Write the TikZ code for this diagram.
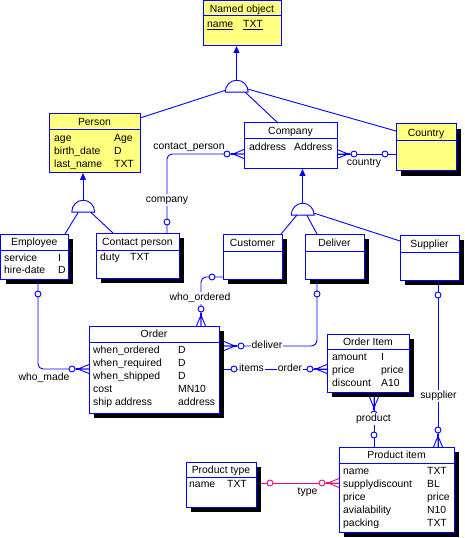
\documentclass[tikz,border=0pt]{standalone}
\usepackage{fontspec}
\setmainfont{Liberation Sans}
\usetikzlibrary{arrows.meta,calc}
\definecolor{erblue}{RGB}{0,0,255}
\definecolor{eryellow}{RGB}{255,255,128}
\definecolor{erpink}{RGB}{230,20,120}
\tikzset{
  ebox/.style={draw=erblue, line width=1bp, fill=white, inner sep=0pt, outer sep=0pt},
  ybox/.style={ebox, fill=eryellow},
  ttl/.style={inner sep=0pt, text height=7.4bp, text depth=0pt},
  attr/.style={ttl, anchor=west},
  conn/.style={draw=erblue, line width=0.9bp},
  lbl/.style={fill=white, inner sep=1bp, text height=7.4bp, text depth=2bp},
  plbl/.style={inner sep=0pt, text height=7.4bp, text depth=0pt},
  inhsym/.style={draw=erblue, line width=0.9bp, fill=white},
  isa/.style={conn, -{Triangle[width=6bp,length=7bp]}},
  ringst/.style={conn, fill=white},
}
% entity: name, l, t, r, b, divider, title, style, shadow
\newcommand\ent[9]{%
  \pgfmathsetmacro\entw{#4-#2}%
  \pgfmathsetmacro\enth{#5-#3}%
  \pgfmathsetmacro\entx{(#2+#4)/2}%
  \pgfmathsetmacro\enty{(#3+#5)/2}%
  \pgfmathsetmacro\entty{(#3+#6)/2}%
  \ifnum#9=1 \fill[black] ({#2+5},{#3+5}) rectangle ({#4+5},{#5+5});\fi
  \node[#8, minimum width=\entw bp, minimum height=\enth bp] (#1) at (\entx,\enty) {};
  \draw[draw=erblue, line width=1bp] (#1.west |- 0,#6) -- (#1.east |- 0,#6);
  \node[ttl] (#1-title) at (\entx,\entty) {#7};
}
% inheritance symbol: name, cx, base y
\newcommand\inh[3]{%
  \node[inner sep=0pt, minimum width=23bp, minimum height=12bp] (#1) at (#2,{#3-6}) {};
  \draw[inhsym] (#1.south west) -- (#1.south east)
     arc[start angle=0, end angle=180, x radius=11.5bp, y radius=12bp] -- cycle;
}
% crow's foot with dot and ring: coordinate, outward angle, colour
\newcommand\crow[3]{%
  \begin{scope}[shift={(#1)}, rotate=#2]
    \draw[draw=#3, line width=0.9bp] (0,4.5bp) -- (11bp,0) -- (0,-4.5bp) (0,0) -- (11bp,0);
    \fill[#3] (10bp,-1.3bp) rectangle (12.6bp,1.3bp);
    \draw[draw=#3, line width=0.9bp, fill=white] (17bp,0) circle[radius=3bp];
  \end{scope}}
\newcommand\ring[2]{\draw[ringst, draw=#2] (#1) circle[radius=3bp];}
\newcommand\attr[4]{\node[attr] (#1) at (#2,#3) {#4};}
\begin{document}
\begin{tikzpicture}[x=1bp, y=-1bp, font=\fontsize{10.4bp}{12bp}\selectfont]
\useasboundingbox (0,0) rectangle (465,538);
\fill[white] (0,0) rectangle (465,538);

% ---------- entities ----------
\ent{Named}{203}{1}{281}{46}{16}{Named object}{ybox}{0}
\attr{Named-a1}{207}{24}{\underline{name}}
\attr{Named-b1}{243}{24}{\underline{TXT}}

\ent{Person}{49}{114}{140}{173}{130}{Person}{ybox}{0}
\attr{Person-a1}{54}{138}{age}        \attr{Person-b1}{114}{138}{Age}
\attr{Person-a2}{54}{151}{birth\_date} \attr{Person-b2}{114}{151}{D}
\attr{Person-a3}{54}{164}{last\_name}  \attr{Person-b3}{114}{164}{TXT}

\ent{Company}{244}{123}{337}{169}{139}{Company}{ebox}{0}
\attr{Company-a1}{249}{147}{address} \attr{Company-b1}{294}{147}{Address}

\ent{Country}{396}{124}{456}{171}{141}{Country}{ybox}{1}

\ent{Employee}{0.5}{234}{68}{279}{250}{Employee}{ebox}{1}
\attr{Employee-a1}{4}{258}{service}   \attr{Employee-b1}{58}{258}{I}
\attr{Employee-a2}{4}{270}{hire-date} \attr{Employee-b2}{58}{270}{D}

\ent{Contact}{96}{233}{179}{278}{250}{Contact person}{ebox}{1}
\attr{Contact-a1}{100}{257}{duty} \attr{Contact-b1}{130}{257}{TXT}

\ent{Customer}{223}{234}{282}{279}{251}{Customer}{ebox}{1}
\ent{Deliver}{305}{234}{364}{279}{251}{Deliver}{ebox}{1}
\ent{Supplier}{400}{235}{459}{280}{252}{Supplier}{ebox}{1}

\ent{Order}{89}{326}{219}{413}{342}{Order}{ebox}{1}
\attr{Order-a1}{93}{350}{when\_ordered}  \attr{Order-b1}{178}{350}{D}
\attr{Order-a2}{93}{363}{when\_required} \attr{Order-b2}{178}{363}{D}
\attr{Order-a3}{93}{376}{when\_shipped}  \attr{Order-b3}{178}{376}{D}
\attr{Order-a4}{93}{389}{cost}           \attr{Order-b4}{178}{389}{MN10}
\attr{Order-a5}{93}{402}{ship address}   \attr{Order-b5}{178}{402}{address}

\ent{OrderItem}{327}{334}{409}{392}{349}{Order Item}{ebox}{1}
\attr{OrderItem-a1}{332}{357}{amount}   \attr{OrderItem-b1}{381}{357}{I}
\attr{OrderItem-a2}{332}{370}{price}    \attr{OrderItem-b2}{381}{370}{price}
\attr{OrderItem-a3}{332}{383}{discount} \attr{OrderItem-b3}{381}{383}{A10}

\ent{ProductType}{186}{462}{256}{507}{477}{Product type}{ebox}{1}
\attr{ProductType-a1}{189}{484}{name} \attr{ProductType-b1}{227}{484}{TXT}

\ent{ProductItem}{339}{447}{454}{532}{463}{Product item}{ebox}{1}
\attr{ProductItem-a1}{343}{471}{name}           \attr{ProductItem-b1}{427}{471}{TXT}
\attr{ProductItem-a2}{343}{484}{supplydiscount} \attr{ProductItem-b2}{427}{484}{BL}
\attr{ProductItem-a3}{343}{497}{price}          \attr{ProductItem-b3}{427}{497}{price}
\attr{ProductItem-a4}{343}{510}{avialability}   \attr{ProductItem-b4}{427}{510}{N10}
\attr{ProductItem-a5}{343}{523}{packing}        \attr{ProductItem-b5}{427}{523}{TXT}

% ---------- inheritance ----------
\inh{inhA}{236.5}{92}
\draw[conn] ($(inhA.south west)+(1,-2)$) -- ($(Person.north east)+(0,4)$);
\draw[conn] ($(inhA.south east)+(-3,0)$) -- ($(Company.north west)+(34,0)$);
\draw[conn] ($(inhA.south east)+(0,-3)$) -- ($(Country.north west)+(0,7)$);
\draw[isa] (inhA.north) -- (inhA.north |- Named.south);

\inh{inhB}{83}{212}
\draw[conn] ($(inhB.south west)+(7,0)$) -- ($(Employee.north east)+(-3,0)$);
\draw[conn] ($(inhB.south east)+(-4,0)$) -- ($(Contact.north west)+(17,0)$);
\draw[isa] (inhB.north) -- (inhB.north |- Person.south);

\inh{inhC}{302.5}{215}
\draw[conn] ($(inhC.south west)+(6,0)$) -- ($(Customer.north east)+(-1,0)$);
\draw[conn] ($(inhC.south west)+(16,0)$) -- ($(Deliver.north west)+(12,0)$);
\draw[conn] ($(inhC.south east)+(0,-2)$) -- ($(Supplier.north west)+(0,6)$);
\draw[isa] (inhC.north) -- (inhC.north |- Company.south);

% ---------- relationships ----------
% Company - Country
\coordinate (k1) at (Company.east |- 0,154);
\coordinate (k2) at (Country.west |- 0,154);
\coordinate (k3) at ($(k2)+(-11,0)$);
\draw[conn] (k1) -- (k2);
\crow{k1}{0}{erblue}
\ring{k3}{erblue}
\node[plbl] (k-lbl) at (364,162) {country};

% Company - Contact person
\coordinate (p1) at (Company.west |- 0,154);
\coordinate (p2) at (Contact.north -| 167,0);
\coordinate (p3) at ($(p2)+(0,-11)$);
\draw[conn, rounded corners=5bp] (p1) -- (p1 -| p2) -- (p2);
\crow{p1}{180}{erblue}
\ring{p3}{erblue}
\node[plbl] (p-lbl1) at (189,146) {contact\_person};
\node[lbl] (p-lbl2) at (167,200) {company};

% Customer - Order
\coordinate (o1) at (Customer.west |- 0,277);
\coordinate (o2) at (Order.north -| 201,0);
\coordinate (o3) at ($(o1)+(-11,0)$);
\draw[conn, rounded corners=5bp] (o1) -- (o1 -| o2) -- (o2);
\crow{o2}{90}{erblue}
\ring{o3}{erblue}
\node[lbl] (o-lbl) at (200,298) {who\_ordered};

% Deliver - Order
\coordinate (d1) at (Deliver.south -| 317,0);
\coordinate (d2) at ($(Order.east |- 0,346)+(5,0)$);
\coordinate (d3) at ($(d1)+(0,15)$);
\draw[conn, rounded corners=6bp] (d1) -- (d1 |- d2) -- (d2);
\crow{d2}{0}{erblue}
\ring{d3}{erblue}
\node[lbl] (d-lbl) at (267,346) {deliver};

% Order - Order Item
\coordinate (i1) at ($(Order.east |- 0,369)+(5,0)$);
\coordinate (i2) at (OrderItem.west |- 0,369);
\coordinate (i3) at ($(i1)+(10,0)$);
\draw[conn] (i1) -- (i2);
\crow{i2}{180}{erblue}
\ring{i3}{erblue}
\node[lbl] (i-lbl1) at (251.5,369) {items};
\node[lbl] (i-lbl2) at (290,369) {order};

% Order Item - Product item
\coordinate (q1) at ($(OrderItem.south -| 374,0)+(0,5)$);
\coordinate (q2) at (ProductItem.north -| 374,0);
\coordinate (q3) at ($(q2)+(0,-12)$);
\draw[conn] (q1) -- (q2);
\crow{q1}{-90}{erblue}
\ring{q3}{erblue}
\node[lbl] (q-lbl) at (373.5,419) {product};

% Supplier - Product item
\coordinate (s1) at (Supplier.south -| 438,0);
\coordinate (s2) at (ProductItem.north -| 438,0);
\coordinate (s3) at ($(s1)+(0,15)$);
\draw[conn] (s1) -- (s2);
\crow{s2}{90}{erblue}
\ring{s3}{erblue}
\node[lbl] (s-lbl) at (438.5,396) {supplier};

% Employee - Order
\coordinate (e1) at (Employee.south -| 38,0);
\coordinate (e2) at (Order.west |- 0,369);
\coordinate (e3) at ($(e1)+(0,15)$);
\draw[conn, rounded corners=5bp] (e1) -- (e1 |- e2) -- (e2);
\crow{e2}{180}{erblue}
\ring{e3}{erblue}
\node[plbl] (e-lbl) at (44,377) {who\_made};

% Product type - Product item
\coordinate (t1) at ($(ProductType.east |- 0,483)+(5,0)$);
\coordinate (t2) at (ProductItem.west |- 0,483);
\coordinate (t3) at ($(t1)+(9,0)$);
\draw[conn, draw=erpink] (t1) -- (t2);
\crow{t2}{180}{erpink}
\ring{t3}{erpink}
\node[plbl] (t-lbl) at (307.5,491) {type};
\end{tikzpicture}
\end{document}
